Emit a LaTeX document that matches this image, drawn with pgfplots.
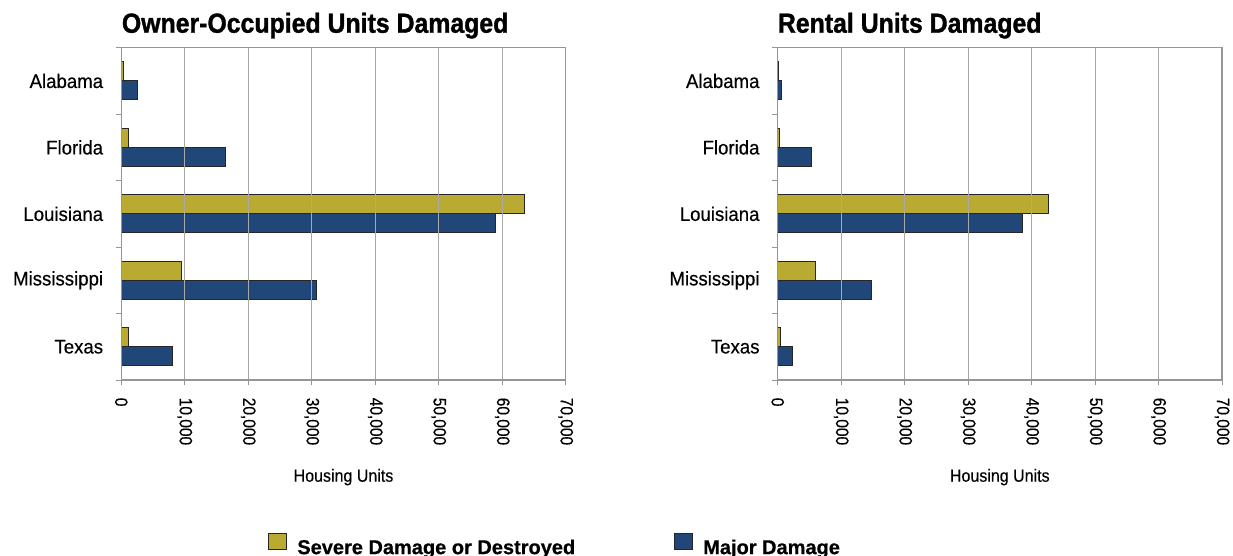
\documentclass[border=0pt]{standalone}
\usepackage{fontspec}
\setmainfont{Liberation Sans}
\newfontfamily\titlefont{Liberation Sans}[FakeStretch=0.9, FakeBold=1.2]
\newfontfamily\catfont{Liberation Sans}[FakeStretch=0.95, FakeBold=0.4]
\newfontfamily\tickfontfam{Liberation Sans}[FakeStretch=0.86, FakeBold=0.4]
\newfontfamily\labfont{Liberation Sans}[FakeStretch=0.91, FakeBold=0.3]
\newfontfamily\legfont{Liberation Sans}[FakeStretch=1.0, FakeBold=0.6]
\usepackage{pgfplots}
\pgfplotsset{compat=1.18}
\definecolor{gold}{RGB}{185,170,50}
\definecolor{navy}{RGB}{33,70,120}
\definecolor{gridg}{RGB}{168,168,168}
\definecolor{axg}{RGB}{150,150,150}

\pgfplotsset{hbar/.style={
  xbar, scale only axis, width=222.2pt, height=166.15pt,
  xmin=0, xmax=70000, ymin=-0.5, ymax=4.5,
  axis on top,
  xtick={0,10000,20000,30000,40000,50000,60000,70000},
  scaled x ticks=false,
  /pgf/number format/1000 sep={,},
  /pgf/number format/assume math mode=true,
  xtick pos=bottom, ytick pos=left,
  xticklabel style={font=\tickfontfam\fontsize{9}{10}\selectfont, rotate=-90, anchor=west, inner sep=0pt},
  xticklabel shift=6pt,
  ytick={-0.5,0.5,1.5,2.5,3.5,4.5},
  yticklabels={Texas,Mississippi,Louisiana,Florida,Alabama,{}},
  yticklabel style={font=\catfont\fontsize{9.8}{11}\selectfont, inner sep=0pt, yshift=16.6pt, xshift=-6.2pt},
  tick align=outside, major tick length=2.7pt,
  tick style={axg, line width=0.5pt},
  xmajorgrids, grid style={gridg, line width=0.5pt},
  axis line style={axg, line width=0.7pt},
  bar width=9.5pt,
}}

\begin{document}
\begin{tikzpicture}
\path[use as bounding box] (0,0) rectangle (616.5pt,-278pt);

\begin{axis}[hbar, at={(60.65pt,-190pt)}, anchor=south west,
  legend columns=2,
  legend style={draw=none, fill=none, inner sep=0pt, at={(0.330,-0.4965)}, anchor=west,
    font=\legfont\bfseries\fontsize{10}{12}\selectfont,
    nodes={inner sep=0pt},
    /tikz/every odd column/.append style={column sep=5pt},
    /tikz/every even column/.append style={column sep=49.5pt}},
  legend image code/.code={\draw[#1] (0pt,-0.5pt) rectangle (9pt,7.5pt);}
]
\addplot[fill=gold, draw=black!85, line width=0.5pt, bar shift=4.75pt] coordinates {
  (1100,0) (9500,1) (63500,2) (1100,3) (300,4)};
\addplot[fill=navy, draw=black!85, line width=0.5pt, bar shift=-4.75pt] coordinates {
  (8000,0) (30800,1) (59000,2) (16400,3) (2600,4)};
\legend{Severe Damage or Destroyed, Major Damage}
\end{axis}

\begin{axis}[hbar, at={(388.85pt,-190pt)}, anchor=south west]
\addplot[fill=gold, draw=black!85, line width=0.5pt, bar shift=4.75pt] coordinates {
  (400,0) (5900,1) (42700,2) (300,3) (100,4)};
\addplot[fill=navy, draw=black!85, line width=0.5pt, bar shift=-4.75pt] coordinates {
  (2400,0) (14700,1) (38600,2) (5300,3) (650,4)};
\end{axis}

\begin{scope}[x=0.5pt,y=-0.5pt]
\node[anchor=base west, inner sep=0pt, font=\titlefont\bfseries\fontsize{13.8}{16}\selectfont] at (121.5,32.7) {Owner-Occupied Units Damaged};
\node[anchor=base west, inner sep=0pt, font=\titlefont\bfseries\fontsize{13.8}{16}\selectfont] at (777.5,32.7) {Rental Units Damaged};
\node[anchor=base, inner sep=0pt, font=\labfont\fontsize{8.8}{10}\selectfont] at (343.5,481.7) {Housing Units};
\node[anchor=base, inner sep=0pt, font=\labfont\fontsize{8.8}{10}\selectfont] at (999.8,481.7) {Housing Units};
\end{scope}
\end{tikzpicture}
\end{document}
